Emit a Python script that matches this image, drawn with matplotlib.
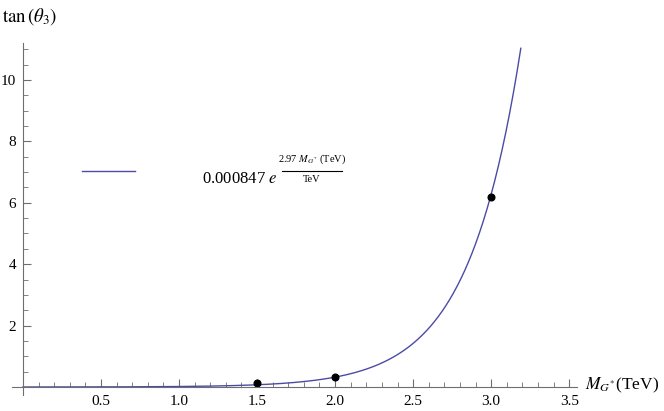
import numpy as np
import matplotlib
matplotlib.use("Agg")
import matplotlib.pyplot as plt
from matplotlib.ticker import MultipleLocator

plt.rcParams['font.family'] = ['Liberation Serif', 'DejaVu Serif']
plt.rcParams['mathtext.fontset'] = 'stix'

# fit: tan(theta3) = a * exp(b * M)
fit_a = 0.000847
fit_b = 2.97
m_max = 3.19

# measured points
mass = [1.5, 2.0, 3.0]
tan_theta = [0.13, 0.32, 6.19]

x_ticks = [0.5, 1.0, 1.5, 2.0, 2.5, 3.0, 3.5]
y_ticks = [2, 4, 6, 8, 10]

W, H = 664, 411
fig = plt.figure(figsize=(W / 100, H / 100), dpi=100)

# axes box from pixel layout
x0, x1, y0, y1 = 12, 577, 395, 43
ax = fig.add_axes([x0 / W, 1 - y0 / H, (x1 - x0) / W, (y0 - y1) / H])
ax.set_xlim(-0.07, 3.55)
ax.set_ylim(-0.26, 11.2)

curve_col = '#4b4ba6'
axis_col = '#6e6e6e'

m = np.linspace(0, m_max, 400)
ax.plot(m, fit_a * np.exp(fit_b * m), color=curve_col, lw=1.0)
ax.plot(mass, tan_theta, 'o', color='black', ms=4.8)

# mathematica style axes through origin
for s in ['top', 'right']:
    ax.spines[s].set_visible(False)
ax.spines['left'].set_position(('data', 0))
ax.spines['bottom'].set_position(('data', 0))
for s in ['left', 'bottom']:
    ax.spines[s].set_color(axis_col)
    ax.spines[s].set_linewidth(0.8)

ax.set_xticks(x_ticks)
ax.set_xticklabels([f"{v:.1f}" for v in x_ticks])
ax.set_yticks(y_ticks)
ax.set_yticklabels([str(v) for v in y_ticks])
ax.xaxis.set_minor_locator(MultipleLocator(0.1))
ax.yaxis.set_minor_locator(MultipleLocator(0.5))
ax.tick_params(which='both', direction='in', color=axis_col, labelsize=11)
ax.tick_params(which='major', length=6, width=0.8)
ax.tick_params(which='minor', length=3.5, width=0.6)
ax.tick_params(axis='x', pad=6)
ax.tick_params(axis='y', pad=5)

# legend
ax.plot([0.378, 0.718], [7.03, 7.03], color=curve_col, lw=1.0)
ax.text(1.15, 6.76, r"0.000847 $\mathit{e}$", fontsize=12, ha='left', va='center')
ax.plot([1.66, 2.045], [7.04, 7.04], color='black', lw=0.8)
ax.text(1.85, 7.42, r"2.97 $M_{G^{*}}$ (TeV)", fontsize=7.5, ha='center', va='center')
ax.text(1.85, 6.76, "TeV", fontsize=7.5, ha='center', va='center')

# axis labels
fig.text(2 / W, 1 - 17 / H, r"$\tan\left(\theta_3\right)$", fontsize=13.5, ha='left', va='center')
fig.text(585 / W, 1 - 385 / H, r"$M_{G^{*}}$(TeV)", fontsize=12.5, ha='left', va='center')

fig.savefig("out.png", dpi=100)
